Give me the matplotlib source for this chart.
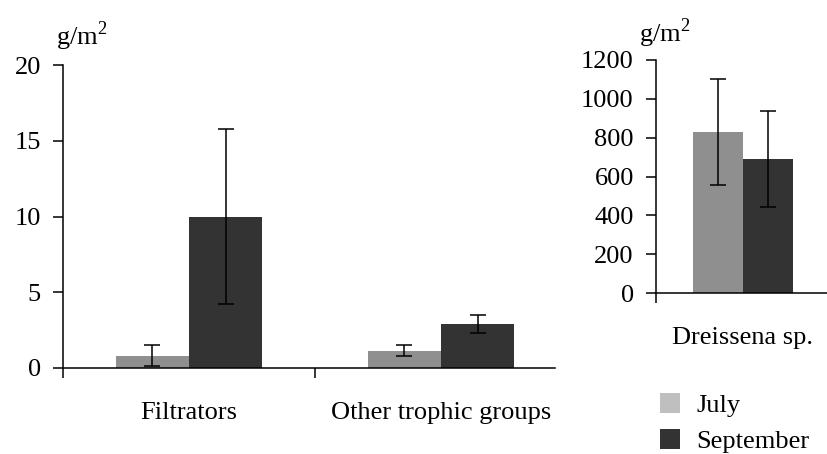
import matplotlib
matplotlib.use("Agg")
import matplotlib.pyplot as plt
from matplotlib.patches import Patch
from matplotlib.transforms import blended_transform_factory

plt.rcParams['font.family'] = ['Liberation Serif', 'DejaVu Serif']
plt.rcParams['mathtext.fontset'] = 'custom'
plt.rcParams['mathtext.rm'] = 'Liberation Serif'

# Data
groups_left = ["Filtrators", "Other trophic groups"]
july_left = [0.8, 1.15]
july_left_err = [0.7, 0.38]
sept_left = [10.0, 2.9]
sept_left_err = [5.75, 0.6]

groups_right = ["Dreissena sp."]
july_right = [830]
july_right_err = [272]
sept_right = [690]
sept_right_err = [248]

series = ["July", "September"]
c_july = "#8f8f8f"
c_sept = "#333333"
c_july_leg = "#bfbfbf"

W, H = 828, 454
fig = plt.figure(figsize=(W / 100, H / 100), dpi=100)

FS = 19
bw = 0.29

def style(ax, yticks):
    for s in ["top", "right"]:
        ax.spines[s].set_visible(False)
    for s in ["left", "bottom"]:
        ax.spines[s].set_linewidth(1.1)
    ax.set_yticks(yticks)
    ax.tick_params(axis='y', direction='out', length=7, width=1.1, pad=9, labelsize=FS)
    ax.tick_params(axis='x', direction='out', length=7, width=1.1, labelbottom=False)

ekw = dict(ecolor='black', elinewidth=1.1, capsize=6, capthick=1.1)

# Left axes
axL = fig.add_axes([63 / W, 1 - 368 / H, 492 / W, 303 / H])
xl = list(range(len(groups_left)))
axL.bar([x - bw / 2 for x in xl], july_left, bw, color=c_july, yerr=july_left_err, error_kw=ekw)
axL.bar([x + bw / 2 for x in xl], sept_left, bw, color=c_sept, yerr=sept_left_err, error_kw=ekw)
axL.set_xlim(-0.5, -0.5 + 492 / 252)
axL.set_ylim(0, 20)
style(axL, [0, 5, 10, 15, 20])
axL.set_xticks([-0.5, 0.5])
trL = blended_transform_factory(axL.transData, fig.transFigure)
for x, g in zip(xl, groups_left):
    axL.text(x, 1 - 413 / H, g, transform=trL, ha='center', va='center', fontsize=FS)
fig.text(56 / W, 1 - 36 / H, r"g/m$^{2}$", ha='left', va='center', fontsize=FS)

# Right axes
axR = fig.add_axes([656 / W, 1 - 293 / H, 172 / W, 233 / H])
xr = list(range(len(groups_right)))
axR.bar([x - bw / 2 for x in xr], july_right, bw, color=c_july, yerr=july_right_err, error_kw=ekw)
axR.bar([x + bw / 2 for x in xr], sept_right, bw, color=c_sept, yerr=sept_right_err, error_kw=ekw)
axR.set_xlim(-0.5, -0.5 + 172 / 174)
axR.set_ylim(0, 1200)
style(axR, [0, 200, 400, 600, 800, 1000, 1200])
axR.set_xticks([-0.5])
trR = blended_transform_factory(axR.transData, fig.transFigure)
for x, g in zip(xr, groups_right):
    axR.text(x, 1 - 338 / H, g, transform=trR, ha='center', va='center', fontsize=FS)
fig.text(639 / W, 1 - 33 / H, r"g/m$^{2}$", ha='left', va='center', fontsize=FS)

# Legend
handles = [Patch(facecolor=c_july_leg, edgecolor='none'), Patch(facecolor=c_sept, edgecolor='none')]
fig.legend(handles, series, loc='upper left', bbox_to_anchor=(642 / W, 1 - 375 / H),
           frameon=False, fontsize=FS, handlelength=0.75, handleheight=0.75,
           handletextpad=0.6, labelspacing=0.45, borderpad=0.2)

fig.savefig("out.png", dpi=100)
